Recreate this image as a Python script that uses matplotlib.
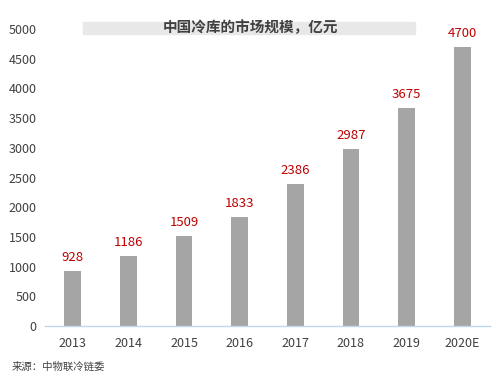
import matplotlib
matplotlib.use("Agg")
import matplotlib.pyplot as plt
from matplotlib.patches import Rectangle

plt.rcParams['font.family'] = ['Noto Sans CJK SC', 'DejaVu Sans']

# Data
years = ['2013', '2014', '2015', '2016', '2017', '2018', '2019', '2020E']
market_size = [928, 1186, 1509, 1833, 2386, 2987, 3675, 4700]

fig = plt.figure(figsize=(5, 3.77), dpi=100)
ax = fig.add_axes([0.09, 0.135, 0.89, 0.788])

x = range(len(years))
ax.bar(x, market_size, width=0.3, color='#a5a5a5', zorder=2)

# Value labels
for xi, v in zip(x, market_size):
    ax.text(xi, v + 120, str(v), ha='center', va='bottom', color='#c00000',
            fontsize=9.5, clip_on=False)

ax.set_xlim(-0.5, 7.5)
ax.set_ylim(0, 5000)
ax.set_yticks(range(0, 5001, 500))
ax.set_xticks(list(x))
ax.set_xticklabels(years)
ax.tick_params(axis='both', length=0, labelsize=9, colors='#404040')
ax.tick_params(axis='x', pad=8)
ax.tick_params(axis='y', pad=6)

for side in ['top', 'right', 'left']:
    ax.spines[side].set_visible(False)
ax.spines['bottom'].set_color('#bdd7ee')
ax.spines['bottom'].set_linewidth(1)

# Title with gray band
fig.patches.append(Rectangle((0.166, 0.910), 0.664, 0.032, transform=fig.transFigure,
                             color='#e8e8e8', zorder=0))
fig.text(0.5, 0.929, '中国冷库的市场规模，亿元', ha='center', va='center',
         fontsize=10.5, fontweight='bold', color='#404040')

# Source
fig.text(0.024, 0.027, '来源：中物联冷链委', ha='left', va='center',
         fontsize=7.5, color='#404040')

fig.savefig('out.png', dpi=100)
